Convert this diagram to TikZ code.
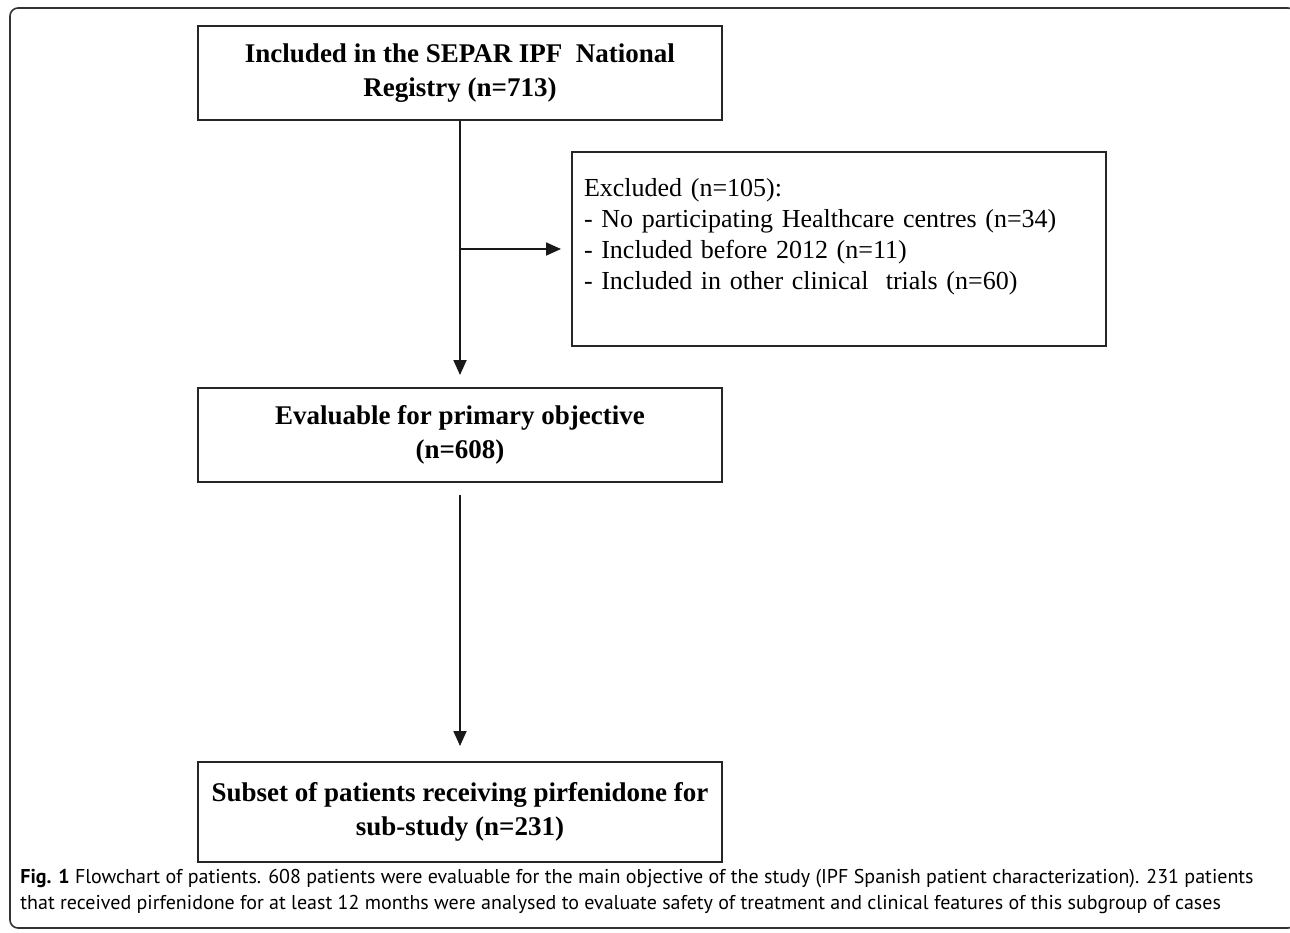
\documentclass[tikz,border=0pt]{standalone}
\usepackage{fontspec}
\setmainfont{Liberation Serif}
\newfontfamily\capfont{PT Sans}
\usetikzlibrary{arrows.meta, positioning}

\begin{document}
\begin{tikzpicture}[x=0.5pt, y=-0.5pt,
            mainbox/.style={draw=black!85, line width=1pt, minimum width=262pt, minimum height=47pt,
                            align=center, font=\fontsize{13.5}{17}\selectfont\bfseries},
            exclbox/.style={draw=black!85, line width=1pt, minimum width=267pt, minimum height=97pt,
                            text width=255pt, align=left, font=\fontsize{13}{15.5}\selectfont},
            arrow/.style={-{Triangle[length=7.5pt, width=6.5pt]}, line width=0.9pt, black!90},
            caption/.style={anchor=north west, align=left, inner sep=0pt,
                            font=\capfont\fontsize{10}{13}\selectfont}]

            \useasboundingbox (0,0) rectangle (1290,932);

            % outer frame of the figure
            \draw[rounded corners=4pt, line width=0.8pt, black!80] (10,8) rectangle (1296,928);

            % main column of boxes
            \node[mainbox] (registry) at (460,73) {Included in the SEPAR IPF\ \ National\\ Registry (n=713)};
            \node[mainbox, below=133pt of registry] (evaluable) {Evaluable for primary objective\\ (n=608)};
            \node[mainbox, minimum height=50pt, below=139pt of evaluable] (subset) {Subset of patients receiving pirfenidone for\\ sub-study (n=231)};

            % excluded patients
            \node[exclbox] (excluded) at (839,249) {Excluded (n=105):\\
                - No participating Healthcare centres (n=34)\\
                - Included before 2012 (n=11)\\
                - Included in other clinical\ \ trials (n=60)\\ \mbox{}};

            % arrows
            \draw[arrow, shorten >=6pt] (registry) -- (evaluable);
            \draw[arrow, shorten >=5pt] (registry.south |- excluded.west) -- (excluded.west);
            \draw[arrow, shorten <=6pt, shorten >=7.5pt] (evaluable) -- (subset);

            % caption
            \node[caption] (caption) at (20,869) {{\bfseries Fig. 1} Flowchart of patients. 608 patients were evaluable for the main objective of the study (IPF Spanish patient characterization). 231 patients\\
                that received pirfenidone for at least 12 months were analysed to evaluate safety of treatment and clinical features of this subgroup of cases};
        \end{tikzpicture}
\end{document}
